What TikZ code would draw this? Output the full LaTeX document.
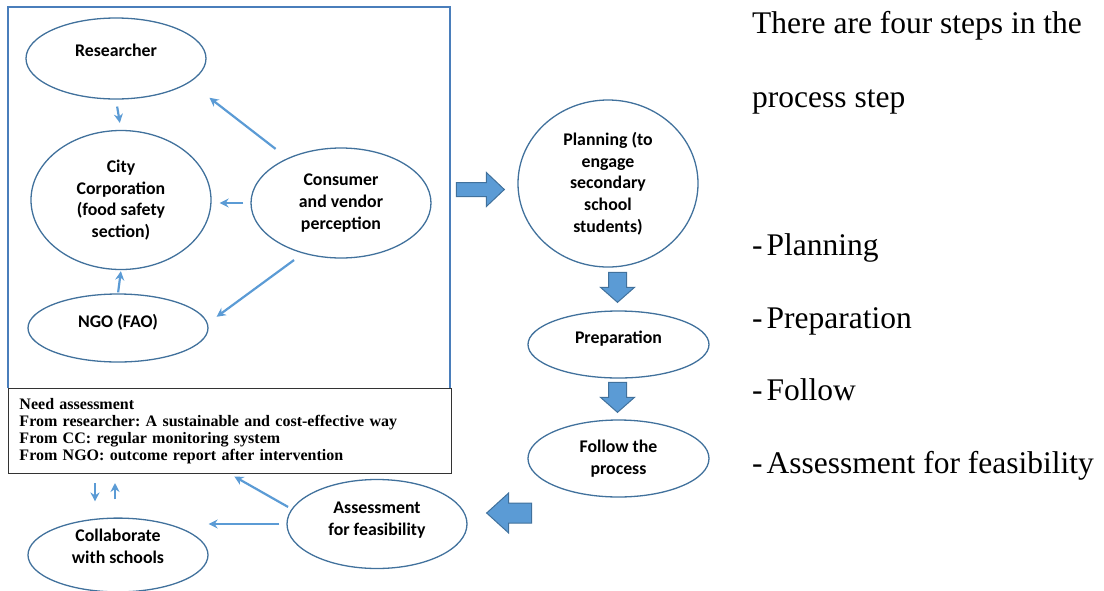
\documentclass[tikz,border=0pt]{standalone}
\usepackage{fontspec}
\setmainfont{Liberation Serif}
\newfontfamily\calfont{Carlito}
\usetikzlibrary{shapes.geometric,arrows.meta,calc}
\definecolor{edgeblue}{HTML}{41719C}
\definecolor{fillblue}{HTML}{5B9BD5}
\definecolor{frameblue}{HTML}{4A7EBB}

\tikzset{
  bubble/.style={ellipse, draw=edgeblue, line width=1.3pt, inner sep=0pt, minimum width=180pt,
    align=center, font=\calfont\bfseries\fontsize{17.8}{21.7}\selectfont},
  lifted/.style={text depth=#1},
  link/.style={draw=fillblue, line width=2.2pt, -{Stealth[length=9pt,width=9pt]}},
  fatarrow/.style={fill=fillblue, draw=edgeblue, line width=1pt, line join=miter},
  steptext/.style={anchor=base west, inner sep=0pt, font=\fontsize{31.5}{36}\selectfont},
}

\begin{document}
\frenchspacing
\begin{tikzpicture}[x=1pt,y=-1pt]
			%%%%% START %%%%%
			\useasboundingbox (0,0) rectangle (1104,590);
			
			\draw[frameblue, line width=1.5pt] (8,388) -- (8,7) -- (450,7) -- (450,388);
			\node[draw=black!80, line width=1pt, anchor=north west, minimum width=443pt, minimum height=85pt,
			  text width=421pt, inner xsep=11pt, align=left,
			  font=\bfseries\fontsize{16}{17}\selectfont] (need) at (8,388)
			  {Need assessment\\From researcher: A sustainable and cost-effective way\\From CC: regular monitoring system\\From NGO: outcome report after intervention};
			
			\node[bubble, lifted=16pt, minimum height=81pt] (res) at (116,58.5) {Researcher};
			\node[bubble, minimum height=139pt] (city) at (121,200) {City\\Corporation\\(food safety\\section)};
			\node[bubble, minimum height=110pt] (cons) at (341,203) {Consumer\\and vendor\\perception};
			\node[bubble, lifted=14pt, minimum height=68pt] (ngo) at (118,328) {NGO (FAO)};
			\node[bubble, lifted=18pt, minimum height=69pt] (collab) at (118,555) {Collaborate\\with schools};
			\node[bubble, lifted=10pt, minimum height=89pt] (assess) at (377,524) {Assessment\\for feasibility};
			
			\node[bubble, minimum height=167pt] (plan) at (608,183.5) {Planning (to\\engage\\secondary\\school\\students)};
			\node[bubble, lifted=14pt, minimum width=181pt, minimum height=67pt] (prep) at (618.5,344.5) {Preparation};
			\node[bubble, minimum width=181pt, minimum height=77pt] (follow) at (618.5,458.5) {Follow the\\process};
			
			\draw[link, shorten <=7pt, shorten >=7pt] (res.south) -- (city.north);
			\draw[link, shorten <=15pt, shorten >=25pt] (cons.140) -- (res.-18);
			\draw[link, shorten <=7pt, shorten >=8pt] (cons.west) -- (cons.west -| city.east);
			\draw[link, shorten <=1pt, shorten >=1pt] (ngo.north) -- (city.south);
			\draw[link, shorten <=11pt, shorten >=11pt] (cons.233) -- (ngo.3);
			
			\coordinate (down) at ($(need.south west)+(87,0)$);
			\coordinate (up) at ($(need.south west)+(107,0)$);
			\draw[link, shorten <=9pt, shorten >=16pt] (down) -- (down |- collab.north);
			\draw[link, shorten <=18pt, shorten >=9pt] (up |- collab.north) -- (up);
			\draw[link, shorten <=4pt, shorten >=5pt] (assess.170) -- (need.south);
			\draw[link, shorten <=7pt] (assess.west) -- (assess.west -| collab.east);
			
			\draw[fatarrow] ($(plan.west)+(-13,6)$) -- ++(-18,-17) -- ++(0,10) -- ++(-30,0) -- ++(0,14) -- ++(30,0) -- ++(0,10) -- cycle;
			\draw[fatarrow] ($(prep.north)+(-1,-8)$) -- ++(-17,-15) -- ++(8,0) -- ++(0,-15) -- ++(18,0) -- ++(0,15) -- ++(8,0) -- cycle;
			\draw[fatarrow] ($(follow.north)+(-1,-7)$) -- ++(-17,-15) -- ++(8,0) -- ++(0,-15) -- ++(18,0) -- ++(0,15) -- ++(8,0) -- cycle;
			\draw[fatarrow] ($(assess.east)+(19,-11)$) -- ++(22,-20) -- ++(0,10) -- ++(23,0) -- ++(0,20) -- ++(-23,0) -- ++(0,10) -- cycle;
			
			\node[steptext] (intro) at (752,33) {There are four steps in the};
			\node[steptext] (introb) at (752,107) {process step};
			\node[steptext] (s1) at (752,255) {-\kern4pt Planning};
			\node[steptext] (s2) at (752,328) {-\kern4pt Preparation};
			\node[steptext] (s3) at (752,400) {-\kern4pt Follow};
			\node[steptext] (s4) at (752,473) {-\kern4pt Assessment for feasibility};
			
			%%%%% END %%%%%
\end{tikzpicture}
\end{document}
